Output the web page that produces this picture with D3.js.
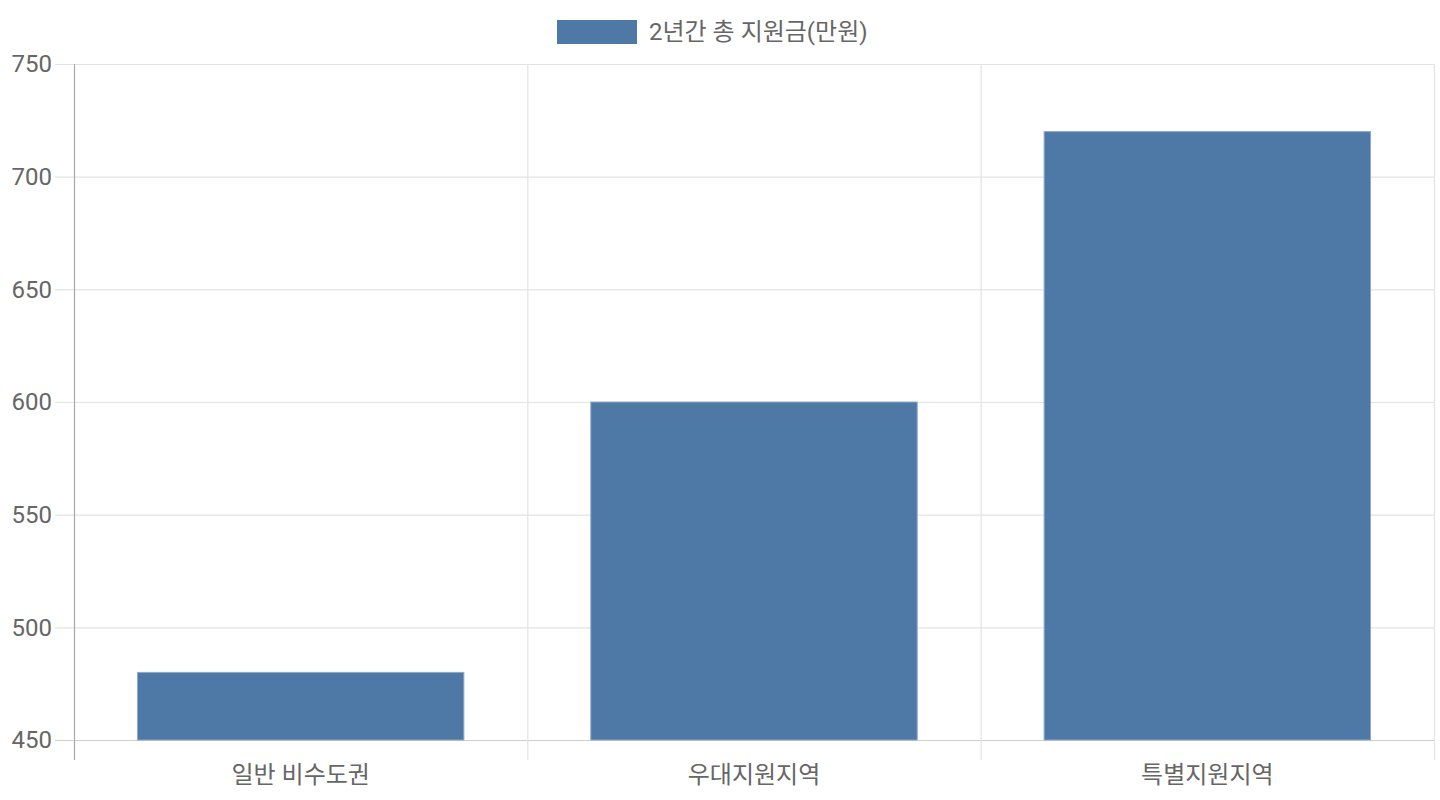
<!DOCTYPE html>
<html>
<head>
<meta charset="utf-8">
<script src="https://cdn.jsdelivr.net/npm/d3@7"></script>
<style>
  body { margin: 0; background: #fff; }
  svg text { font-family: Roboto, "Noto Sans CJK KR", sans-serif; fill: #666; }
</style>
</head>
<body>
<div class="canvas"></div>
<script>
const categories = ["일반 비수도권", "우대지원지역", "특별지원지역"];
const values = [480, 600, 720];
const seriesName = "2년간 총 지원금(만원)";
const yTicks = [450, 500, 550, 600, 650, 700, 750];

const dims = { width: 1440, height: 800 };
const margin = { top: 64, right: 6, bottom: 60, left: 74 };
const color = "#4e79a7";

const svg = d3.select(".canvas")
  .append("svg")
  .attr("width", dims.width)
  .attr("height", dims.height);

const innerW = dims.width - margin.left - margin.right;
const innerH = dims.height - margin.top - margin.bottom;

const graph = svg.append("g")
  .attr("transform", `translate(${margin.left},${margin.top})`);

const x = d3.scaleBand()
  .domain(categories)
  .range([0, innerW])
  .paddingInner(0)
  .paddingOuter(0);

const y = d3.scaleLinear()
  .domain([450, 750])
  .range([innerH, 0]);

// horizontal grid + tick marks
graph.selectAll("line.hgrid")
  .data(yTicks)
  .enter().append("line")
  .attr("class", "hgrid")
  .attr("x1", -19).attr("x2", innerW)
  .attr("y1", d => y(d) + 0.5).attr("y2", d => y(d) + 0.5)
  .attr("stroke", d => d === 450 ? "#cfcfcf" : "#e3e3e3")
  .attr("stroke-width", 1.2);

// vertical grid at band edges
const edges = categories.map(c => x(c)).concat([innerW]);
graph.selectAll("line.vgrid")
  .data(edges)
  .enter().append("line")
  .attr("class", "vgrid")
  .attr("x1", d => d + 0.5).attr("x2", d => d + 0.5)
  .attr("y1", 0).attr("y2", innerH + 20)
  .attr("stroke", (d, i) => i === 0 ? "#a8a8a8" : "#e3e3e3")
  .attr("stroke-width", 1.2);

// y labels
graph.selectAll("text.ylab")
  .data(yTicks)
  .enter().append("text")
  .attr("class", "ylab")
  .attr("x", -22)
  .attr("y", d => y(d))
  .attr("dy", "0.35em")
  .attr("text-anchor", "end")
  .attr("font-size", 24)
  .text(d => d);

// bars
const barW = x.bandwidth() * 0.72;
graph.selectAll("rect.bar")
  .data(values)
  .enter().append("rect")
  .attr("class", "bar")
  .attr("x", (d, i) => x(categories[i]) + (x.bandwidth() - barW) / 2)
  .attr("y", d => y(d))
  .attr("width", barW)
  .attr("height", d => innerH - y(d))
  .attr("fill", color)
  .attr("stroke", "#8fa9c6")
  .attr("stroke-width", 1);

// x labels
graph.selectAll("text.xlab")
  .data(categories)
  .enter().append("text")
  .attr("class", "xlab")
  .attr("x", d => x(d) + x.bandwidth() / 2)
  .attr("y", innerH + 43)
  .attr("text-anchor", "middle")
  .attr("font-size", 24)
  .text(d => d);

// legend
const legend = svg.append("g");
legend.append("rect")
  .attr("x", 557).attr("y", 20)
  .attr("width", 80).attr("height", 24)
  .attr("fill", color);
legend.append("text")
  .attr("x", 649).attr("y", 32)
  .attr("dy", "0.35em")
  .attr("font-size", 24)
  .text(seriesName);
</script>
</body>
</html>
